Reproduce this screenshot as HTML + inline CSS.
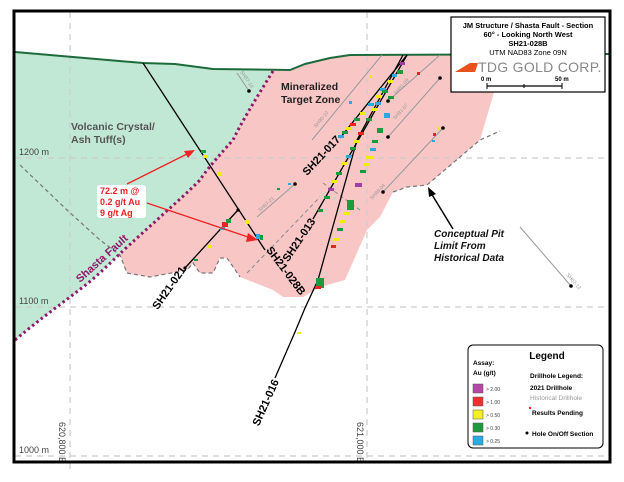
<!DOCTYPE html>
<html><head><meta charset="utf-8"><style>
html,body{margin:0;padding:0;background:#fff;}
svg{display:block;font-family:"Liberation Sans",sans-serif;}
</style></head><body>
<svg width="624" height="482" viewBox="0 0 624 482" xmlns="http://www.w3.org/2000/svg">
<rect width="624" height="482" fill="#fff"/>
<path d="M15,52 L143,63 L175,64 L213,69 L273,71 C255,100 240,125 233,140 C215,160 205,172 200,180 C180,200 165,212 157,220 C140,235 135,240 127,247 C105,268 95,278 83,287 C60,305 45,315 15,340 Z" fill="#c1e8d4"/>
<path d="M273,71 L290,70 L305,64 L330,58 L350,55 L505,55 L480,140 L427,185 L407,187 L393,192 L380,217 L367,230 L345,280 L320,287 L303,297 L283,297 L273,290 L240,277 L227,258 L220,258 L213,273 L200,273 L193,263 L187,270 L150,277 L127,273 L120,255 L127,247 C135,240 140,235 157,220 C165,212 180,200 200,180 C205,172 215,160 233,140 C240,125 255,100 273,71 Z" fill="#f9c6c6"/>
<g stroke="#ccc" stroke-width="1.2" stroke-dasharray="6,5" fill="none">
<line x1="70" y1="12" x2="70" y2="470"/><line x1="367" y1="12" x2="367" y2="462"/>
<line x1="15" y1="158" x2="610" y2="158"/><line x1="15" y1="307" x2="610" y2="307"/><line x1="15" y1="456" x2="610" y2="456"/>
</g>
<g font-size="9" fill="#444">
<text x="19" y="155">1200 m</text><text x="19" y="304">1100 m</text><text x="19" y="453">1000 m</text>
<text transform="translate(59,422) rotate(90)">620,800 E</text>
<text transform="translate(357,422) rotate(90)">621,000 E</text>
</g>
<path d="M20,165 L67,210 L100,240 L120,255 L127,273 L150,277 L187,270 L193,263 L200,273 L213,273 L220,258 L227,258 L240,277" fill="none" stroke="#777" stroke-width="1.2" stroke-dasharray="4,3"/>
<path d="M393,192 L407,187 L427,185 L480,140 L500,131" fill="none" stroke="#777" stroke-width="1.2" stroke-dasharray="4,3"/>
<path d="M247,273 L320,197" stroke="#888" stroke-dasharray="4,3" fill="none"/>
<path d="M323,183 L360,210" stroke="#888" stroke-dasharray="4,3" fill="none"/>
<path d="M15,52 L143,63 L175,64 L213,69 L290,70 L305,64 L330,58 L350,55 L610,54" fill="none" stroke="#1d6b3a" stroke-width="2"/>
<path d="M273,71 C255,100 240,125 233,140 C215,160 205,172 200,180 C180,200 165,212 157,220 C140,235 135,240 127,247 C105,268 95,278 83,287 C60,305 45,315 15,340" fill="none" stroke="#8e1a6a" stroke-width="3" stroke-dasharray="2.5,3"/>
<g stroke="#999" stroke-width="1" fill="none">
<line x1="237" y1="73" x2="249" y2="91"/><line x1="257" y1="217" x2="295" y2="184"/>
<line x1="312" y1="140" x2="382" y2="55"/><line x1="388" y1="101" x2="440" y2="55"/>
<line x1="388" y1="137" x2="440" y2="78"/><line x1="383" y1="192" x2="443" y2="128"/>
<line x1="520" y1="227" x2="571" y2="286"/>
</g>
<g fill="#000"><circle cx="249" cy="91" r="1.8"/><circle cx="295" cy="184" r="1.8"/><circle cx="388" cy="101" r="1.8"/><circle cx="440" cy="78" r="1.8"/><circle cx="388" cy="137" r="1.8"/><circle cx="383" cy="192" r="1.8"/><circle cx="443" cy="128" r="1.8"/><circle cx="571" cy="286" r="1.8"/><circle cx="238" cy="210" r="1.6"/><circle cx="185" cy="268" r="1.6"/></g>
<g font-size="5" fill="#999">
<text transform="translate(240,72) rotate(56)">SH87-10</text>
<text transform="translate(260,212) rotate(-42)">SH87-21</text>
<text transform="translate(316,128) rotate(-50)">SH90-10</text>
<text transform="translate(396,95) rotate(-48)">SH91-09</text>
<text transform="translate(395,120) rotate(-48)">SH91-07</text>
<text transform="translate(372,200) rotate(-47)">SH88-04</text>
<text transform="translate(566,275) rotate(49)">SH07-12</text>
</g>
<g stroke="#000" stroke-width="1.3" fill="none">
<line x1="143" y1="63" x2="265" y2="250"/>
<line x1="238" y1="210" x2="185" y2="268"/>
<polyline points="403,55 357,140 318,280 305,308 295,332 275,378"/>
<line x1="407" y1="55" x2="340" y2="138"/>
<line x1="407" y1="55" x2="313" y2="219"/>
</g>
<g>
<rect x="201" y="150" width="5" height="3" fill="#1e9a3e"/><rect x="203" y="155" width="5" height="3" fill="#ee0"/>
<rect x="217" y="172" width="5" height="4" fill="#ee0"/><rect x="245" y="220" width="4" height="4" fill="#ee0"/>
<rect x="256" y="234" width="4" height="5" fill="#29abe2"/><rect x="260" y="235" width="3" height="5" fill="#1e9a3e"/>
<rect x="222" y="222" width="6" height="5" fill="#e22"/><rect x="226" y="219" width="5" height="4" fill="#1e9a3e"/><rect x="220" y="227" width="5" height="3" fill="#29abe2"/>
<rect x="207" y="245" width="4" height="3" fill="#ee0"/><rect x="194" y="259" width="4" height="2" fill="#1e9a3e"/>
<rect x="277" y="188" width="3" height="2" fill="#1e9a3e"/><rect x="288" y="183" width="3" height="2" fill="#29abe2"/>
<rect x="316" y="278" width="8" height="10" fill="#1e9a3e"/><rect x="315" y="286" width="6" height="3" fill="#e22"/>
<rect x="297" y="332" width="4" height="2" fill="#ee0"/>
</g>
<g>
<rect x="400" y="62" width="5" height="3" fill="#9b3fa0"/><rect x="392" y="74" width="5" height="3" fill="#29abe2"/>
<rect x="380" y="88" width="6" height="3" fill="#29abe2"/><rect x="376" y="95" width="6" height="3" fill="#ee0"/>
<rect x="368" y="103" width="6" height="3" fill="#29abe2"/><rect x="360" y="112" width="6" height="3" fill="#ee0"/>
<rect x="354" y="118" width="6" height="3" fill="#1e9a3e"/><rect x="350" y="123" width="6" height="3" fill="#e22"/>
<rect x="346" y="127" width="6" height="3" fill="#ee0"/><rect x="342" y="131" width="6" height="3" fill="#1e9a3e"/>
<rect x="338" y="135" width="6" height="3" fill="#29abe2"/>
<rect x="388" y="80" width="6" height="3" fill="#ee0"/><rect x="382" y="90" width="6" height="3" fill="#1e9a3e"/>
<rect x="375" y="102" width="6" height="3" fill="#29abe2"/><rect x="372" y="108" width="6" height="3" fill="#ee0"/>
<rect x="366" y="118" width="6" height="3" fill="#1e9a3e"/><rect x="358" y="132" width="6" height="3" fill="#e22"/>
<rect x="354" y="140" width="6" height="3" fill="#ee0"/><rect x="350" y="147" width="6" height="3" fill="#1e9a3e"/>
<rect x="346" y="155" width="6" height="3" fill="#29abe2"/><rect x="342" y="162" width="6" height="3" fill="#ee0"/>
<rect x="336" y="172" width="6" height="3" fill="#1e9a3e"/><rect x="332" y="180" width="6" height="3" fill="#ee0"/>
<rect x="328" y="188" width="6" height="3" fill="#9b3fa0"/><rect x="324" y="196" width="6" height="3" fill="#1e9a3e"/>
<rect x="318" y="209" width="5" height="3" fill="#1e9a3e"/>
<rect x="397" y="70" width="6" height="4" fill="#1e9a3e"/><rect x="388" y="96" width="6" height="3" fill="#1e9a3e"/>
<rect x="384" y="113" width="6" height="5" fill="#29abe2"/><rect x="377" y="128" width="6" height="5" fill="#1e9a3e"/>
<rect x="372" y="140" width="6" height="3" fill="#1e9a3e"/><rect x="370" y="148" width="6" height="3" fill="#29abe2"/>
<rect x="366" y="156" width="7" height="3" fill="#ee0"/><rect x="363" y="163" width="7" height="3" fill="#ee0"/>
<rect x="360" y="170" width="6" height="3" fill="#1e9a3e"/><rect x="355" y="183" width="7" height="4" fill="#9b3fa0"/>
<rect x="347" y="200" width="7" height="10" fill="#1e9a3e"/><rect x="343" y="212" width="6" height="3" fill="#ee0"/>
<rect x="340" y="220" width="6" height="3" fill="#ee0"/><rect x="337" y="228" width="6" height="3" fill="#1e9a3e"/>
<rect x="333" y="238" width="6" height="3" fill="#ee0"/><rect x="331" y="245" width="5" height="3" fill="#e22"/>
<rect x="437" y="127" width="3" height="3" fill="#ee0"/><rect x="433" y="133" width="3" height="3" fill="#e22"/><rect x="432" y="140" width="3" height="2" fill="#29abe2"/>
<rect x="417" y="72" width="3" height="3" fill="#e22"/><rect x="349" y="101" width="3" height="3" fill="#29abe2"/><rect x="369" y="75" width="3" height="3" fill="#ee0"/>
</g>
<g font-weight="bold" font-size="11" fill="#000">
<text text-anchor="middle" transform="translate(283,273) rotate(53)">SH21-028B</text>
<text text-anchor="middle" transform="translate(172,290) rotate(-55)">SH21-021</text>
<text text-anchor="middle" transform="translate(269,404) rotate(-66)">SH21-016</text>
<text text-anchor="middle" transform="translate(324,158) rotate(-47)">SH21-017</text>
<text text-anchor="middle" transform="translate(302,242) rotate(-56)">SH21-013</text>
</g>
<text x="71" y="130" font-size="10.5" font-weight="bold" fill="#555">Volcanic Crystal/</text>
<text x="71" y="143" font-size="10.5" font-weight="bold" fill="#555">Ash Tuff(s)</text>
<text x="281" y="90" font-size="10.5" font-weight="bold" fill="#222">Mineralized</text>
<text x="281" y="103" font-size="10.5" font-weight="bold" fill="#222">Target Zone</text>
<text transform="translate(80,283) rotate(-42)" font-size="11" font-weight="bold" fill="#8e1a6a">Shasta Fault</text>
<g font-size="10" font-weight="bold" font-style="italic" fill="#111">
<text x="434" y="237">Conceptual Pit</text><text x="434" y="249">Limit From</text><text x="434" y="261">Historical Data</text>
</g>
<line x1="453" y1="229" x2="431" y2="193" stroke="#000" stroke-width="1.5"/>
<polygon points="428,187 436,194 429,197" fill="#000"/>
<rect x="97" y="185" width="49" height="33" rx="3" fill="#fff"/>
<g font-size="9" font-weight="bold" fill="#e22"><text x="100" y="194">72.2 m @</text><text x="100" y="205">0.2 g/t Au</text><text x="100" y="216">9 g/t Ag</text></g>
<g stroke="#e22" stroke-width="1.3"><line x1="127" y1="184" x2="189" y2="153"/><line x1="147" y1="203" x2="251" y2="238"/></g>
<polygon points="195,150 184,151 188,158" fill="#e22"/><polygon points="258,240 248,233 246,242" fill="#e22"/>
<rect x="14" y="11" width="596" height="451" fill="none" stroke="#000" stroke-width="3"/>
<rect x="451" y="17" width="154" height="75" fill="#fff" stroke="#000" stroke-width="1.2"/>
<g font-size="7.5" font-weight="bold" text-anchor="middle" fill="#000">
<text x="528" y="28">JM Structure / Shasta Fault - Section</text>
<text x="528" y="37">60° - Looking North West</text>
<text x="528" y="46">SH21-028B</text>
</g>
<text x="528" y="55" font-size="7.5" text-anchor="middle">UTM NAD83 Zone 09N</text>
<polygon points="455,72 470,63 478,63 475,72" fill="#e8501c"/>
<text x="478" y="72" font-size="14" fill="#888" letter-spacing="0.3">TDG GOLD CORP.</text>
<g font-size="6" font-weight="bold"><text x="481" y="81">0 m</text><text x="555" y="81">50 m</text></g>
<line x1="487" y1="86" x2="562" y2="86" stroke="#000" stroke-width="1.2"/>
<line x1="487" y1="83" x2="487" y2="89" stroke="#000"/><line x1="524" y1="84" x2="524" y2="88" stroke="#000"/><line x1="562" y1="83" x2="562" y2="89" stroke="#000"/>
<rect x="468" y="345" width="135" height="103" rx="5" fill="#fff" stroke="#000" stroke-width="1"/>
<text x="547" y="359" font-size="10" font-weight="bold" text-anchor="middle">Legend</text>
<g font-size="6.5" font-weight="bold"><text x="473" y="365">Assay:</text><text x="473" y="375">Au (g/t)</text>
<text x="530" y="378">Drillhole Legend:</text><text x="530" y="390">2021 Drillhole</text><text x="532" y="415">Results Pending</text><text x="532" y="436">Hole On/Off Section</text></g>
<text x="530" y="400" font-size="6.5" fill="#999">Historical Drillhole</text>
<circle cx="530" cy="408" r="1.2" fill="#e22"/><circle cx="527" cy="433" r="1.5" fill="#000"/>
<g stroke="#555" stroke-width="0.5">
<rect x="473" y="384" width="10" height="9" fill="#b845a8"/>
<rect x="473" y="397" width="10" height="9" fill="#f03030"/>
<rect x="473" y="410" width="10" height="9" fill="#f5f020"/>
<rect x="473" y="423" width="10" height="9" fill="#1e9a3e"/>
<rect x="473" y="436" width="10" height="9" fill="#29abe2"/>
</g>
<g font-size="5" fill="#444"><text x="486" y="391">&gt; 2.00</text><text x="486" y="404">&gt; 1.00</text><text x="486" y="417">&gt; 0.50</text><text x="486" y="430">&gt; 0.30</text><text x="486" y="443">&gt; 0.25</text></g>
</svg>
</body></html>
